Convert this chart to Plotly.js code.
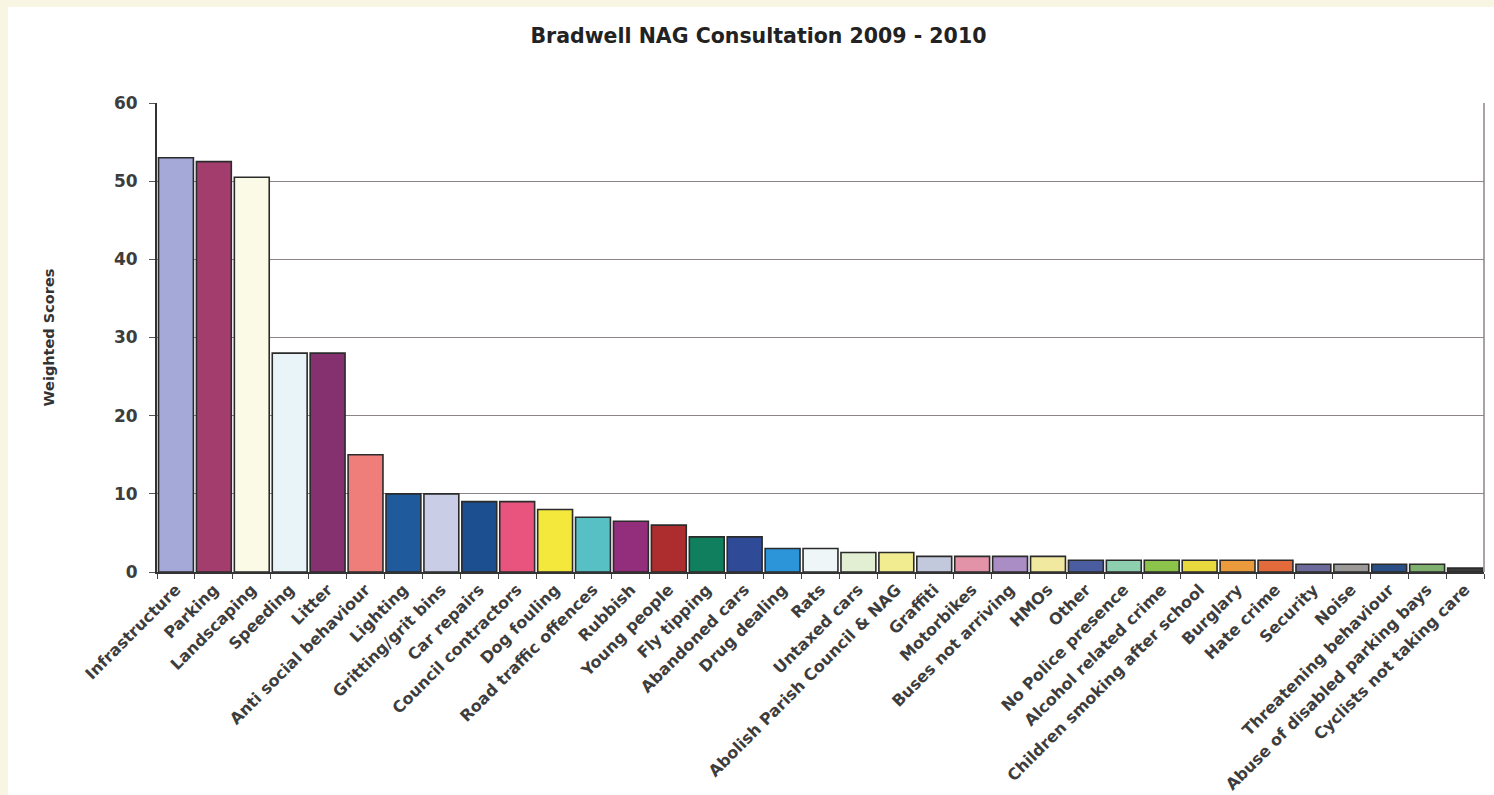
<!DOCTYPE html>
<html>
<head>
<meta charset="utf-8">
<script src="https://cdn.plot.ly/plotly-3.0.1.min.js"></script>
<style>
  html, body { margin: 0; padding: 0; background: #f8f5e3; width: 1494px; height: 795px; overflow: hidden; }
  #chart { position: absolute; left: 8px; top: 7px; width: 1486px; height: 788px; background: #ffffff; }
</style>
</head>
<body>
<div id="chart"></div>
<script>
const categories = [
  "Infrastructure", "Parking", "Landscaping", "Speeding", "Litter",
  "Anti social behaviour", "Lighting", "Gritting/grit bins", "Car repairs",
  "Council contractors", "Dog fouling", "Road traffic offences", "Rubbish",
  "Young people", "Fly tipping", "Abandoned cars", "Drug dealing", "Rats",
  "Untaxed cars", "Abolish Parish Council & NAG", "Graffiti", "Motorbikes",
  "Buses not arriving", "HMOs", "Other", "No Police presence",
  "Alcohol related crime", "Children smoking after school", "Burglary",
  "Hate crime", "Security", "Noise", "Threatening behaviour",
  "Abuse of disabled parking bays", "Cyclists not taking care"
];

const weightedScores = [
  53, 52.5, 50.5, 28, 28,
  15, 10, 10, 9,
  9, 8, 7, 6.5,
  6, 4.5, 4.5, 3, 3,
  2.5, 2.5, 2, 2,
  2, 2, 1.5, 1.5,
  1.5, 1.5, 1.5,
  1.5, 1, 1, 1,
  1, 0.5
];

const barColors = [
  "#a4a9d8", "#a33d6e", "#fbfae6", "#e9f4f8", "#85306f",
  "#ef7d7a", "#1f5a9c", "#c9cde6", "#1c4f8f",
  "#e9547f", "#f5e83c", "#56c0c4", "#932e7c",
  "#ad2c2e", "#107f5e", "#2f4a96", "#2c95da", "#eef6f8",
  "#e2efd2", "#f1ec8f", "#c3c9dc", "#e293a8",
  "#a98dc4", "#f2e9a0", "#4a5da0", "#8ecfb0",
  "#8cc34a", "#e7d93e", "#eb9b3c",
  "#e36a3a", "#6c6a9a", "#9c9a98", "#2a4e86",
  "#80b06e", "#3a3a3a"
];

const chartTitle = "Bradwell NAG Consultation 2009 - 2010";
const yTitle = "Weighted Scores";
const yTicks = [0, 10, 20, 30, 40, 50, 60];

const FONT = "DejaVu Sans, Arial, sans-serif";

const trace = {
  type: "bar",
  x: categories,
  y: weightedScores,
  marker: {
    color: barColors,
    line: { color: "#2b2b2b", width: 1.6 }
  },
  hoverinfo: "x+y"
};

const layout = {
  width: 1486,
  height: 788,
  paper_bgcolor: "#ffffff",
  plot_bgcolor: "#ffffff",
  margin: { l: 149, r: 10, t: 96, b: 223 },
  showlegend: false,
  bargap: 0.08,
  title: {
    text: chartTitle,
    font: { family: FONT, size: 20.5, color: "#222", weight: "bold" },
    xref: "container",
    x: 0.505,
    xanchor: "center",
    yref: "container",
    y: 1 - 29 / 788,
    yanchor: "middle"
  },
  xaxis: {
    type: "category",
    automargin: false,
    tickangle: -45,
    tickfont: { family: FONT, size: 16, color: "#3d3d3d", weight: "bold" },
    ticks: "outside",
    tickson: "boundaries",
    ticklen: 5,
    tickcolor: "#444",
    showline: true,
    linecolor: "#333",
    linewidth: 2,
    showgrid: false,
    fixedrange: true
  },
  yaxis: {
    range: [0, 60],
    tickvals: yTicks,
    automargin: false,
    tickfont: { family: FONT, size: 17, color: "#3d3d3d", weight: "bold" },
    ticks: "outside",
    ticklen: 6,
    tickcolor: "#555",
    ticklabelstandoff: 8,
    showline: true,
    linecolor: "#333",
    linewidth: 2,
    showgrid: true,
    gridcolor: "#8d8486",
    gridwidth: 1.2,
    zeroline: false,
    fixedrange: true,
    title: {
      text: yTitle,
      font: { family: FONT, size: 14.5, color: "#333", weight: "bold" },
      standoff: 56
    }
  },
  shapes: [
    {
      type: "line", xref: "paper", yref: "paper",
      x0: 1, x1: 1, y0: 0, y1: 1,
      line: { color: "#8d8486", width: 1.5 }
    }
  ]
};

Plotly.newPlot("chart", [trace], layout, { displayModeBar: false, staticPlot: true });
</script>
</body>
</html>
